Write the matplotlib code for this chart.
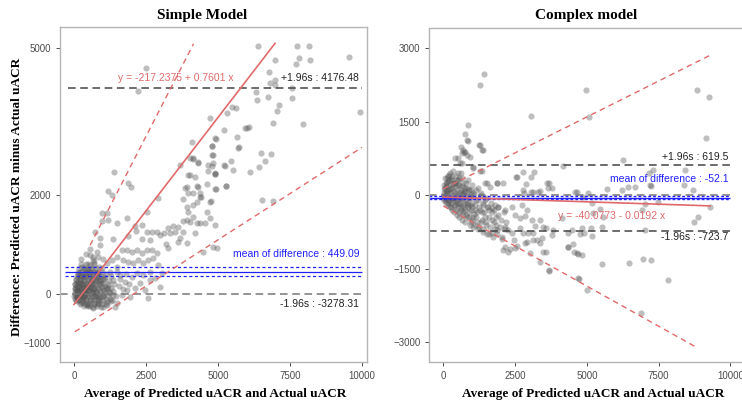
import numpy as np
import matplotlib
matplotlib.use("Agg")
import matplotlib.pyplot as plt

# ---- data ----
# Simple model: (average, difference)
simple_pts = [
    (6400, 5040), (7750, 5030), (8170, 5030), (9540, 4820), (7810, 4800), (7710, 4670),
    (8190, 4745), (6980, 4760), (6780, 4500), (6800, 4290), (6970, 4345), (6980, 4250),
    (7560, 4175), (6320, 4095), (6340, 3940), (6720, 4005), (7580, 3980), (7120, 3830),
    (7060, 3713), (9930, 3687), (5475, 3800), (5615, 3775), (4720, 3565), (5320, 3673),
    (6900, 3475), (7950, 3455), (5220, 3333), (5940, 3362), (6000, 3374), (6090, 3388),
    (4920, 3150), (5660, 3178), (4790, 3002), (5740, 2988), (4815, 2813), (6480, 2860),
    (6840, 2833), (4665, 2616), (4800, 2590), (5210, 2622), (5243, 2590), (5460, 2697),
    (5530, 2520), (6630, 2703), (6410, 2581), (6100, 2474), (4650, 2494), (4885, 2433),
    (4885, 2433), (4607, 2236), (4930, 2134), (5280, 2189), (4375, 1971), (4770, 1878),
    (6540, 1911), (6900, 1878), (2490, 4594), (2233, 4126), (1400, 2480), (1885, 2250),
    (1980, 2175), (1190, 2094), (1308, 2006), (4097, 3077), (4907, 3158), (4803, 3008),
    (4120, 2738), (4305, 2671), (3680, 2622), (4027, 2413), (3865, 2154), (3970, 2053),
    (4305, 2175), (4420, 1971), (5267, 2195), (3774, 1925), (5705, 2967),
    (2906, 1939), (2545, 1667), (960, 1634), (1135, 1634), (983, 1484), (1192, 1498),
    (1852, 1532), (1505, 1431), (2118, 1376), (2350, 1396), (729, 1260), (903, 1138),
    (2153, 1274), (2524, 1260), (2698, 1260), (2872, 1260), (1365, 1106), (1885, 1173),
    (2350, 1106), (2639, 1091), (2986, 1193), (3125, 1227), (3275, 1329), (3448, 1376),
    (3622, 1362), (3774, 1484), (3913, 1498), (3507, 1260), (3333, 1227), (3796, 1260),
    (3913, 1024), (3680, 1126), (3194, 1004), (3622, 1057), (3275, 922),
    (4028, 1463), (4142, 1565), (4260, 1431), (4375, 1443), (4549, 1431), (4722, 1532),
    (4896, 1396), (4201, 1228), (4955, 923), (4490, 854), (3969, 1667), (4142, 1803),
    (3913, 1768), (4260, 1870), (4607, 1667), (4722, 1870), (4375, 2041), (4142, 2041),
    (3913, 2175), (3969, 2413), (4201, 2378), (4260, 2189), (4837, 2650), (4896, 2447),
    (4142, 2752), (4316, 2663), (4028, 2752), (4780, 2819), (4896, 2122), (4840, 955),
    (1482, 752), (1655, 888), (1829, 888), (2003, 854), (2176, 888), (2350, 820),
    (2523, 888), (2697, 888), (2870, 820), (2754, 719), (2581, 685), (2407, 618),
    (2233, 685), (2060, 618), (1887, 651), (1713, 685), (2928, 583), (3044, 415),
    (2813, 313), (2986, 142), (2639, 278), (2581, -93), (2465, 75), (2292, 211),
    (2118, 110), (1944, -61), (1829, 75), (1655, -26), (1482, -195), (1424, -264),
    (1308, -128), (1135, -163), (1019, -264), (845, -195), (671, -297), (787, -61),
    (2176, 415), (2003, 346), (1771, 244), (1597, 380), (1365, 278), (1192, 142),
    (1019, 75), (2407, 380), (2639, 447), (1482, 549), (1250, 447), (1076, 346),
    (903, 244), (1308, 685), (1135, 618), (962, 516), (787, 415), (613, 278),
    (497, 142), (382, 41), (324, -61), (556, -128), (440, 482), (671, 685),
    (845, 752), (556, 786), (324, 346), (208, 211), (93, 75), (150, -61),
    (266, -163), (440, -230), (903, -61), (1250, 8),
    (20, -100), (30, 0), (40, 100), (50, 200), (60, -50), (80, 300), (100, -150),
    (100, 50), (120, 150), (130, 400), (150, -100), (150, 250), (170, 0), (180, 350),
    (200, -200), (200, 100), (220, 450), (230, 200), (250, -50), (260, 300), (280, 550),
    (300, -150), (300, 50), (320, 150), (330, 400), (350, -250), (350, 250), (370, 0),
    (380, 500), (400, -100), (400, 150), (420, 350), (450, -200), (450, 50), (470, 600),
    (480, 250), (500, -50), (520, 450), (530, 150), (550, -250), (560, 350), (580, 0),
    (600, 500), (610, 200), (630, -150), (650, 400), (670, 100), (690, -50), (700, 650),
    (720, 300), (740, -200), (760, 150), (780, 450), (800, 0), (820, 250), (840, -100),
    (860, 550), (880, 350), (900, 100), (920, -150), (950, 200), (980, 450), (1000, -50),
    (1020, 300), (1050, 0), (1080, 150), (1100, -200), (1120, 400), (1150, 100),
    (1200, 250), (1250, -100), (1300, 350), (1350, 50), (1400, 200), (1450, -50),
    (1500, 450), (1550, 150), (1600, 300), (1700, 100), (1800, 400), (1900, 200),
    (250, 700), (400, 800), (550, 900), (650, 750), (800, 850), (900, 1000), (1000, 700),
    (60, 120), (90, 220), (110, -60), (140, 60), (180, 160), (210, -20), (240, 90),
    (270, 210), (310, -60), (340, 110), (390, 60), (430, -10), (460, 160), (510, 80),
    (540, 230), (590, 120), (620, 40), (660, 220), (710, 90), (750, 30), (790, 310),
    # dense core
    (500, -250), (650, -270), (800, -240), (950, -260),
    (250, -190), (380, -210), (520, -200), (680, -190), (820, -210), (980, -200), (1150, -230),
    (60, -130), (180, -120), (310, -110), (430, -130), (570, -120), (700, -110), (850, -130),
    (990, -120), (1120, -110), (1300, -140),
    (10, -40), (120, -30), (240, -50), (360, -40), (480, -30), (610, -40), (740, -50),
    (880, -30), (1010, -40), (1180, -50), (1350, -30),
    (20, 40), (140, 50), (260, 30), (390, 40), (520, 50), (650, 30), (780, 40), (910, 50),
    (1060, 30), (1230, 40),
    (30, 120), (160, 130), (290, 110), (420, 120), (560, 130), (690, 110), (830, 120),
    (970, 130), (1110, 110), (1280, 120),
    (40, 200), (170, 210), (300, 190), (440, 200), (580, 210), (720, 190), (860, 200),
    (1000, 210), (1170, 190),
    (60, 280), (200, 290), (340, 270), (480, 280), (620, 290), (760, 270), (900, 280), (1050, 290),
    (90, 360), (230, 370), (370, 350), (510, 360), (650, 370), (790, 350), (940, 360),
    (130, 440), (270, 450), (410, 430), (550, 440), (690, 450), (830, 430),
    (190, 520), (330, 530), (470, 510), (610, 520), (750, 530),
    (260, 600), (400, 610), (540, 590), (680, 600),
]

# Complex model: (average, difference)
complex_pts = [
    (1418, 2469), (1279, 2251), (4962, 2135), (9268, 2000), (8850, 2143), (9153, 1176),
    (5077, 1592), (3056, 1612), (861, 1435), (756, 1245), (826, 1129), (617, 992),
    (697, 924), (756, 890), (1279, 1027), (1372, 925), (930, 788), (408, 755),
    (641, 653), (1045, 551), (1338, 502), (6272, 720), (4181, 604), (3171, 482),
    (2787, 482), (2533, 367), (2871, 231), (1871, 257), (2091, 257), (1533, 257),
    (1627, 176), (3603, 257), (3683, 245), (3660, 155), (3310, 61), (3136, 73),
    (2812, 41), (4648, 73), (5052, 53), (5693, 129), (6216, 108), (6446, 176),
    (6679, 176), (7202, 210), (7317, 516), (7178, 461), (8432, 516), (8397, 210),
    (8711, 108), (7226, 196), (4589, 73), (4878, -29), (5170, -163), (5460, -286),
    (7491, -131), (7028, -178), (6912, -300), (9303, -245), (8885, -437), (8746, -539),
    (5226, -367), (5554, -437), (4822, -673), (5136, -661), (4902, -776), (5192, -824),
    (5519, -640), (7028, -708), (4530, -994), (4554, -1151), (4822, -1218),
    (5519, -1408), (6470, -1375), (6947, -1293), (7226, -1320), (7840, -1735),
    (4740, -1714), (4996, -1933), (6889, -2395),
    (2091, -1116), (2324, -1102), (2557, -1035), (2927, -946), (3136, -925), (3369, -980),
    (3369, -1355), (3568, -1163), (3693, -1545), (4334, -1061), (4704, -1198),
    (4763, -790), (3777, -810), (3578, -673), (3428, -878), (3254, -912), (3136, -776),
    (2962, -776), (2787, -763), (2672, -673),
    (850, 1114), (1254, 1027), (1338, 924), (732, 890), (662, 857), (815, 822),
    (501, 755), (582, 653), (1045, 584), (1279, 496), (1453, 245), (1861, 257),
    (2557, 367), (3056, 367), (2766, 108), (3056, 73), (3369, 94), (3777, 143),
    (1512, -233), (1686, -265), (1916, -233), (2150, -300), (2383, -233), (2732, -198),
    (2906, -300), (2498, -402), (2672, -469), (2847, -435), (3080, -504), (3369, -504),
    (3195, -627), (3484, -640), (3833, -708), (4125, -469), (4355, -776), (4474, -708),
    (2150, -640), (2265, -708), (2383, -776), (1686, -776), (1861, -708), (2035, -845),
    (2150, -1049), (2265, -1151), (2474, -912), (2498, -1082), (2847, -980), (3021, -1184),
    (3484, -1151), (3683, -1524), (4355, -1049), (4648, -1184), (4704, -1694),
    (20, 50), (30, -50), (50, 150), (60, -100), (80, 250), (100, 0), (100, -150),
    (120, 350), (150, 100), (150, -200), (180, 400), (200, -50), (200, 200), (220, -250),
    (250, 450), (250, 50), (280, -150), (300, 300), (300, -300), (320, 150), (350, -50),
    (350, 500), (380, -350), (400, 250), (400, -200), (420, 50), (450, 400), (450, -100),
    (480, -400), (500, 200), (500, -250), (520, 0), (550, 350), (550, -450), (580, -150),
    (600, 100), (600, -300), (620, 450), (650, -50), (650, -500), (680, 250), (700, -200),
    (700, -350), (730, 50), (750, -550), (780, -100), (800, 150), (800, -400), (850, -250),
    (850, 300), (880, -50), (900, -450), (920, -600), (950, 100), (950, -300), (1000, -150),
    (1000, -500), (1050, 50), (1050, -650), (1100, -300), (1150, -100), (1150, -450),
    (1200, -700), (1200, 150), (1250, -250), (1300, -550), (1300, 0), (1350, -350),
    (1400, -150), (1400, -700), (1450, -450), (1500, -50), (1500, -600), (1600, -300),
    (1600, -800), (1700, -500), (1800, -200), (1800, -700), (1900, -400),
    (40, 120), (70, -20), (90, 180), (130, 60), (160, 280), (190, -120), (230, 120),
    (260, 320), (290, -60), (330, 220), (370, 80), (410, -120), (440, 180), (470, -20),
    (510, 300), (540, -180), (570, 60), (610, -80), (640, 180), (690, 20), (720, -260),
    (760, 80), (820, -150), (870, 120), (930, -200), (980, 20), (1080, -380),
    # dense core
    (10, 0), (20, 200), (40, -100), (60, 350), (80, 100), (110, -50), (130, 250),
    (160, -150), (170, 50), (190, 420),
    (210, 300), (230, -100), (260, 150), (280, -250), (310, 400), (330, 0), (360, -200),
    (380, 250), (410, -50), (430, -300), (460, 300), (490, 100), (470, -150),
    (520, 450), (530, -350), (560, 200), (580, -50), (610, -250), (640, 350), (660, 50),
    (690, -400), (710, 150), (740, -150), (770, -300), (790, 250), (820, 0), (840, -450),
    (870, -200), (890, 100),
    (910, -350), (940, -50), (960, -550), (990, 200), (1010, -250), (1040, -450), (1070, 0),
    (1090, -600), (1120, -200), (1140, 100), (1170, -350), (1190, -550), (1220, -100),
    (1250, -650), (1280, -300), (1310, 50), (1340, -500), (1370, -200), (1390, -750),
    (1430, -350), (1460, -100), (1490, -550), (1520, -800), (1550, -250), (1580, -450),
    (1620, -650), (1650, -150), (1680, -350), (1720, -850), (1750, -550), (1780, -300),
    (1820, -600), (1850, -450), (1880, -800), (1920, -250), (1960, -650), (2000, -500),
    (2050, -900), (2100, -350), (2150, -700), (2200, -550),
]

# regression / limit lines (intercept, slope, x range)
simple_fit = (-217.2375, 0.7601, 0, 6980)
simple_upper = (348, 1.14, 560, 4150)
simple_lower = (-785, 0.376, 30, 10000)
complex_fit = (-40.0773, -0.0192, 0, 9300)
complex_upper = (130, 0.293, 0, 9290)
complex_lower = (-220, -0.327, 0, 8770)

simple_stats = {"mean": 449.09, "upper": 4176.48, "lower": -3278.31}
complex_stats = {"mean": -52.1, "upper": 619.5, "lower": -723.7}

simple_yticks = [-1000, 0, 2000, 5000]
complex_yticks = [-3000, -1500, 0, 1500, 3000]
xticks = [0, 2500, 5000, 7500, 10000]

red = "#e06a6a"
blue = "#2020ff"
gray = "#555555"
serif = "Liberation Serif"
sans = "Liberation Sans"

fig = plt.figure(figsize=(7.42, 4.01), dpi=100)
ax1 = fig.add_axes([60 / 742, 39 / 401, 306.7 / 742, 334.7 / 401])
ax2 = fig.add_axes([429.3 / 742, 38.7 / 401, 312.7 / 742, 334.3 / 401])


def line(ax, spec, **kw):
    a, b, x0, x1 = spec
    xs = np.array([x0, x1])
    ax.plot(xs, a + b * xs, color=red, **kw)


def style(ax, yticks):
    ax.set_xticks(xticks)
    ax.set_yticks(yticks)
    ax.tick_params(labelsize=7, colors="#333333", length=3, width=0.6,
                   labelcolor="#4d4d4d")
    for lab in ax.get_xticklabels() + ax.get_yticklabels():
        lab.set_family(sans)
    for sp in ax.spines.values():
        sp.set_color("#b5b5b5")
        sp.set_linewidth(1.0)


# left panel
p = np.array(simple_pts)
ax1.scatter(p[:, 0], p[:, 1], s=20, color=gray, alpha=0.38, linewidths=0, zorder=2)
m = simple_stats["mean"]
ax1.hlines(simple_stats["upper"], -200, 10000, colors="#444444", linestyles=(0, (5, 3)), lw=1.1)
ax1.hlines(0, -486, 10000, colors="#777777", linestyles=(0, (5, 3)), lw=1.1)
ax1.hlines(m, -300, 10000, colors=blue, lw=0.9)
ax1.hlines([m + 85, m - 85], -300, 10000, colors=blue, linestyles=(0, (2.5, 2)), lw=0.9)
line(ax1, simple_fit, lw=1.2)
line(ax1, simple_upper, lw=1.0, ls=(0, (4, 3)))
line(ax1, simple_lower, lw=1.0, ls=(0, (4, 3)))
ax1.text(3530, 4378, "y = -217.2375 + 0.7601 x", color=red, fontsize=7.5,
         family=sans, ha="center", va="center")
ax1.text(9906, 4378, "+1.96s : %.2f" % simple_stats["upper"], color="#222222",
         fontsize=7.5, family=sans, ha="right", va="center")
ax1.text(9906, 800, "mean of difference : %.2f" % m, color=blue,
         fontsize=7.5, family=sans, ha="right", va="center")
ax1.text(9906, -209, "-1.96s : %.2f" % simple_stats["lower"], color="#222222",
         fontsize=7.5, family=sans, ha="right", va="center")
ax1.set_xlim(-486, 10163)
ax1.set_ylim(-1388, 5415)
style(ax1, simple_yticks)

# right panel
q = np.array(complex_pts)
ax2.scatter(q[:, 0], q[:, 1], s=20, color=gray, alpha=0.38, linewidths=0, zorder=2)
m2 = complex_stats["mean"]
ax2.hlines([complex_stats["upper"], complex_stats["lower"]], -488, 10000,
           colors="#444444", linestyles=(0, (5, 3)), lw=1.1)
ax2.hlines(0, -488, 10000, colors="#777777", linestyles=(0, (5, 3)), lw=1.1)
ax2.hlines(m2, -488, 10000, colors=blue, lw=1.0)
ax2.hlines([m2 + 25, m2 - 25], -488, 10000, colors=blue, linestyles=(0, (2, 1.5)), lw=1.0)
line(ax2, complex_fit, lw=1.2)
line(ax2, complex_upper, lw=1.0, ls=(0, (4, 3)))
line(ax2, complex_lower, lw=1.0, ls=(0, (4, 3)))
ax2.text(5870, -416, "y = -40.0773 - 0.0192 x", color=red, fontsize=7.5,
         family=sans, ha="center", va="center")
ax2.text(9930, 788, "+1.96s : %.1f" % complex_stats["upper"], color="#222222",
         fontsize=7.5, family=sans, ha="right", va="center")
ax2.text(9930, 333, "mean of difference : %.1f" % m2, color=blue,
         fontsize=7.5, family=sans, ha="right", va="center")
ax2.text(9930, -857, "-1.96s : %.1f" % complex_stats["lower"], color="#222222",
         fontsize=7.5, family=sans, ha="right", va="center")
ax2.set_xlim(-488, 10408)
ax2.set_ylim(-3410, 3410)
style(ax2, complex_yticks)
ax2.spines["right"].set_visible(False)

# titles and axis labels
fig.text(202.5 / 742, 1 - 15 / 401, "Simple Model", family=serif, weight="bold",
         fontsize=11, ha="center", va="center")
fig.text(586 / 742, 1 - 15 / 401, "Complex model", family=serif, weight="bold",
         fontsize=11, ha="center", va="center")
fig.text(215 / 742, 1 - 394 / 401, "Average of Predicted uACR and Actual uACR",
         family=serif, weight="bold", fontsize=9.5, ha="center", va="center")
fig.text(592.7 / 742, 1 - 394 / 401, "Average of Predicted uACR and Actual uACR",
         family=serif, weight="bold", fontsize=9.5, ha="center", va="center")
fig.text(17 / 742, 1 - 197 / 401, "Difference: Predicted uACR minus Actual uACR",
         family=serif, weight="bold", fontsize=9.5, ha="center", va="center",
         rotation=90)

fig.savefig("out.png", dpi=100)
